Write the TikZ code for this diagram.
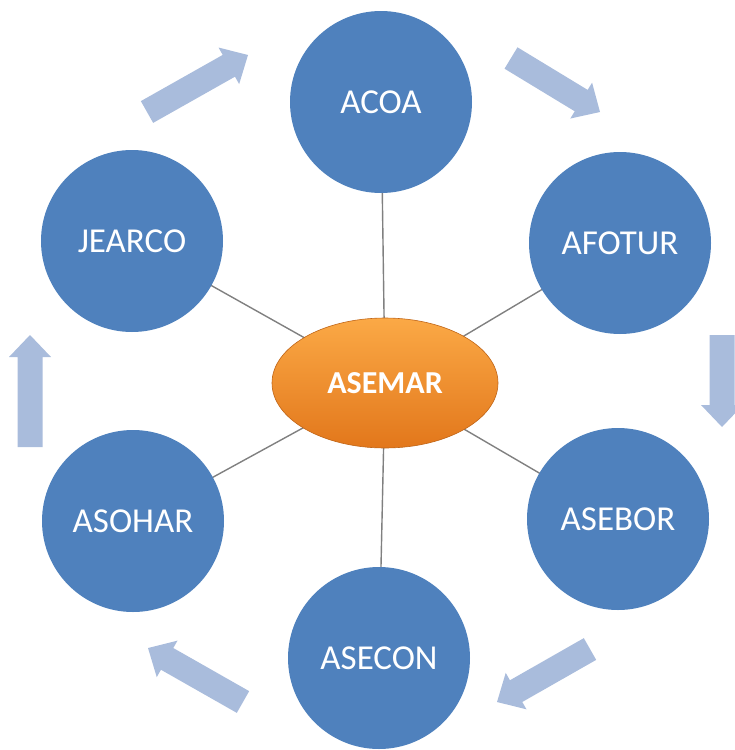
\documentclass[tikz,border=0pt]{standalone}
\usepackage{fontspec}
\setmainfont{Carlito}
\usetikzlibrary{calc,shapes.geometric,backgrounds}
\definecolor{cblue}{HTML}{4F81BD}
\definecolor{arrc}{HTML}{A9BCDC}
\definecolor{orl}{HTML}{FBA946}
\definecolor{ord}{HTML}{E2771B}
\definecolor{linkc}{HTML}{808080}
\newcommand\blockarrow[2]{%
  \coordinate (bah) at ($(#2)!22pt!(#1)$);
  \fill[flow] ($(#1)!12.5pt!90:(#2)$) -- ($(bah)!12.5pt!90:(#2)$) -- ($(bah)!21pt!90:(#2)$) -- (#2)
    -- ($(bah)!21pt!-90:(#2)$) -- ($(bah)!12.5pt!-90:(#2)$) -- ($(#1)!12.5pt!-90:(#2)$) -- cycle;}
\begin{document}
\begin{tikzpicture}[x=1pt,y=-1pt,
  org/.style={circle, fill=cblue, minimum size=182pt, inner sep=0pt, text=white,
    font=\fontsize{35}{42}\selectfont},
  hub/.style={ellipse, minimum width=226pt, minimum height=130pt, inner sep=0pt,
    top color=orl, bottom color=ord, draw=ord!85!black, line width=0.6pt, text=white,
    font=\bfseries\fontsize{32}{38}\selectfont},
  link/.style={draw=linkc, line width=1.4pt},
  flow/.style={fill=arrc}]
\useasboundingbox (0,0) rectangle (734,750);
\node[org] (acoa) at (381,102) {ACOA};
\node[org] (jearco) at (132,241) {JEARCO};
\node[org] (afotur) at (620,243) {AFOTUR};
\node[org] (asebor) at (618,519) {ASEBOR};
\node[org] (asohar) at (133,521) {ASOHAR};
\node[org] (asecon) at (379,658) {ASECON};
\node[hub] (hub) at (385,383) {ASEMAR};
\begin{scope}[on background layer]
  \foreach \n in {acoa,jearco,afotur,asebor,asohar,asecon}
    \draw[link] (hub.center) -- (\n.center);
\end{scope}
\coordinate (t1) at (147,112); \coordinate (p1) at (248,55);
\coordinate (t2) at (511,58);  \coordinate (p2) at (600,112);
\coordinate (t3) at (722,335); \coordinate (p3) at (722,427);
\coordinate (t4) at (590,649); \coordinate (p4) at (497,702);
\coordinate (t5) at (243,702); \coordinate (p5) at (148,648);
\coordinate (t6) at (30,447);  \coordinate (p6) at (30,335);
\blockarrow{t1}{p1}
\blockarrow{t2}{p2}
\blockarrow{t3}{p3}
\blockarrow{t4}{p4}
\blockarrow{t5}{p5}
\blockarrow{t6}{p6}
\end{tikzpicture}
\end{document}
